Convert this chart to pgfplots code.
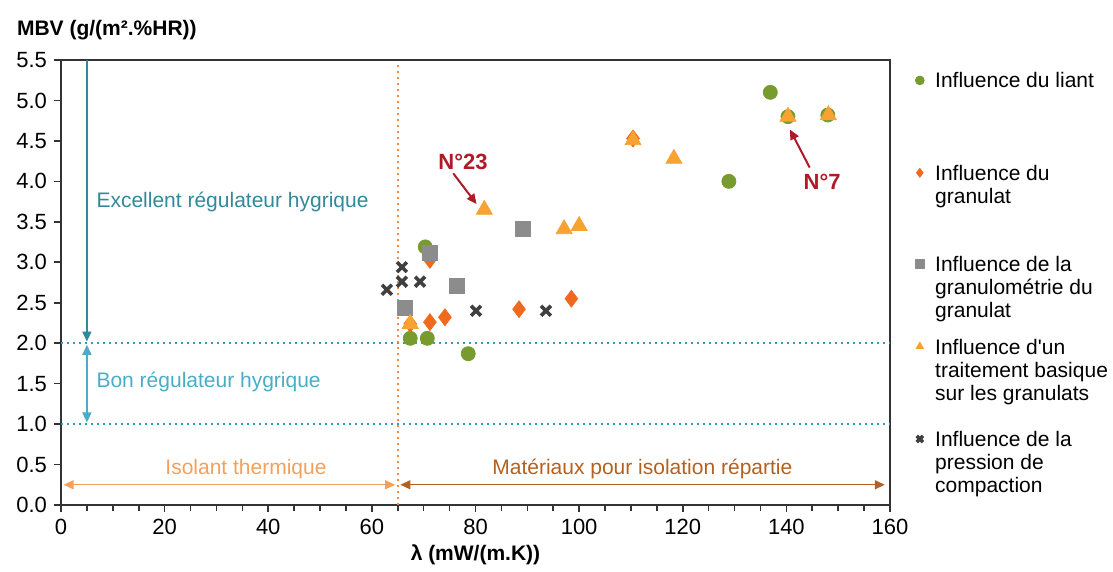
\documentclass[border=0pt]{standalone}
\usepackage{fontspec}
\setmainfont{Liberation Sans}
\usepackage{pgfplots}
\pgfplotsset{compat=1.18}
\usetikzlibrary{arrows.meta}

\definecolor{cliant}{HTML}{779B2F}
\definecolor{cgran}{HTML}{F06A1E}
\definecolor{cgrano}{HTML}{8C8C8C}
\definecolor{ctrait}{HTML}{F8A232}
\definecolor{cpress}{HTML}{404040}
\definecolor{teal1}{HTML}{31899A}
\definecolor{teal2}{HTML}{4BACC6}
\definecolor{dotblue}{HTML}{2E9EC0}
\definecolor{dotorange}{HTML}{F08C46}
\definecolor{isol}{HTML}{F2A15C}
\definecolor{brownish}{HTML}{B4601E}
\definecolor{darkred}{HTML}{B01A28}

% legend entry: lines hang below the first baseline, #2 = room kept above it
\newcommand{\entry}[2]{\raisebox{0pt}[#2][0pt]{\vtop{#1}}}

\begin{document}
\begin{tikzpicture}[font=\fontsize{10.5}{11.5}\selectfont]
\begin{axis}[
    scale only axis,
    width=414.5pt, height=222.5pt,
    xmin=0, xmax=160, ymin=0, ymax=5.5,
    xtick={0,20,40,60,80,100,120,140,160},
    ytick={0,0.5,1,1.5,2,2.5,3,3.5,4,4.5,5,5.5},
    minor x tick num=3,
    tick pos=left, tick align=outside,
    major tick length=3.5pt, minor tick length=3pt,
    axis line style={black!80, line width=0.9pt},
    every tick/.style={black!80, line width=0.8pt},
    /pgf/number format/assume math mode=true,
    yticklabel style={/pgf/number format/.cd, fixed, fixed zerofill, precision=1},
    ticklabel style={font=\fontsize{11}{12}\selectfont},
    xlabel={\textbf{λ (mW/(m.K))}},
    xlabel style={yshift=2pt},
    clip=false,
    legend style={
        at={(rel axis cs:1,1)}, anchor=north west,
        xshift=12.5pt, yshift=-6pt,
        draw=none, fill=none, inner sep=0pt,
        row sep=0pt, column sep=5.5pt,
        cells={anchor=base west},
        nodes={inner sep=0pt},
    },
    legend image code/.code={
        \draw[mark repeat=2, mark phase=2, mark size=2.2pt, #1]
            plot coordinates {(0pt,3.7pt) (4pt,3.7pt) (8pt,3.7pt)};
    },
]

% reference lines
\draw[dotblue, dotted, line width=1pt] (axis cs:0,2) -- (axis cs:160,2);
\draw[dotblue, dotted, line width=1pt] (axis cs:0,1) -- (axis cs:160,1);
\draw[dotorange, dotted, line width=1pt] (axis cs:65,0) -- (axis cs:65,5.45);

% Influence du liant
\addplot[only marks, mark=*, mark size=3.5pt, color=cliant] coordinates {
    (70.3,3.19) (67.4,2.06) (70.7,2.06) (78.6,1.87)
    (128.9,4.00) (136.9,5.10) (140.3,4.80) (148.0,4.82)
};
\addlegendentry{\entry{\hbox{Influence du liant}}{7.7pt}}

% Influence du granulat
\addplot[only marks, mark=diamond*, mark size=4.2pt, color=cgran] coordinates {
    (67.4,2.24) (71.2,2.26) (74.1,2.32) (88.4,2.42) (98.5,2.55)
    (71.2,3.03) (110.4,4.53)
};
\addlegendentry{\entry{\hbox{Influence du}\hbox{granulat}}{44.7pt}}

% Influence de la granulometrie du granulat
\addplot[only marks, mark=square*, mark size=3.8pt, color=cgrano] coordinates {
    (89.2,3.41) (76.4,2.71) (66.4,2.44) (71.2,3.12)
};
\addlegendentry{\entry{\hbox{Influence de la}\hbox{granulométrie du}\hbox{granulat}}{44.2pt}}

% Influence d'un traitement basique
\addplot[only marks, mark=triangle*, mark size=4.6pt, color=ctrait] coordinates {
    (67.4,2.24) (81.7,3.65) (97.1,3.41) (100.0,3.45) (110.4,4.51)
    (118.3,4.28) (140.3,4.80) (148.1,4.82)
};
\addlegendentry{\entry{\hbox{Influence d\textquotesingle un}\hbox{traitement basique}\hbox{sur les granulats}}{39.7pt}}

% Influence de la pression de compaction
\addplot[only marks, mark=x, mark size=3.5pt, line width=1.8pt, color=cpress] coordinates {
    (62.9,2.66) (65.8,2.94) (65.8,2.76) (69.3,2.76) (80.1,2.40) (93.6,2.40)
};
\addlegendentry{\entry{\hbox{Influence de la}\hbox{pression de}\hbox{compaction}}{44.7pt}}

% y axis title
\node[anchor=west, font=\fontsize{10.5}{12}\selectfont\bfseries] at (rel axis cs:0,1)
    [xshift=-25.5pt, yshift=15pt] {MBV (g/(m².\%HR))};

% hygric regulator arrows
\draw[teal1, line width=0.7pt, -{Triangle[length=5pt, width=4.5pt]}]
    (axis cs:5,5.5) -- (axis cs:5,2.02);
\draw[teal2, line width=0.7pt, {Triangle[length=5pt, width=4.5pt]}-{Triangle[length=5pt, width=4.5pt]}]
    (axis cs:5,1.98) -- (axis cs:5,1.02);
\node[anchor=west, text=teal1] at (axis cs:5.5,3.75) {Excellent régulateur hygrique};
\node[anchor=west, text=teal2] at (axis cs:5.5,1.52) {Bon régulateur hygrique};

% thermal insulation arrows
\draw[isol, line width=0.7pt, {Triangle[length=5pt, width=4.5pt]}-{Triangle[length=5pt, width=4.5pt]}]
    (axis cs:0.5,0.25) -- (axis cs:64.5,0.25);
\draw[brownish, line width=0.7pt, {Triangle[length=5pt, width=4.5pt]}-{Triangle[length=5pt, width=4.5pt]}]
    (axis cs:65.5,0.25) -- (axis cs:159,0.25);
\node[text=isol] at (axis cs:35.7,0.44) {Isolant thermique};
\node[text=brownish] at (axis cs:112.2,0.44) {Matériaux pour isolation répartie};

% sample labels
\node[text=darkred, font=\fontsize{11}{12}\selectfont\bfseries] at (axis cs:77.6,4.24) {N°23};
\draw[darkred, line width=1pt, -{Triangle[length=5pt, width=4.5pt]}]
    (axis cs:75.7,4.10) -- (axis cs:80.2,3.72);
\node[text=darkred, font=\fontsize{11}{12}\selectfont\bfseries] at (axis cs:146.9,3.99) {N°7};
\draw[darkred, line width=1pt, -{Triangle[length=5pt, width=4.5pt]}]
    (axis cs:144.5,4.17) -- (axis cs:140.7,4.64);

% page frame matching the reference canvas
\path (rel axis cs:0,0) ++(-30.5pt,-31.5pt) rectangle ++(556.5pt,284pt);
\end{axis}
\end{tikzpicture}
\end{document}
